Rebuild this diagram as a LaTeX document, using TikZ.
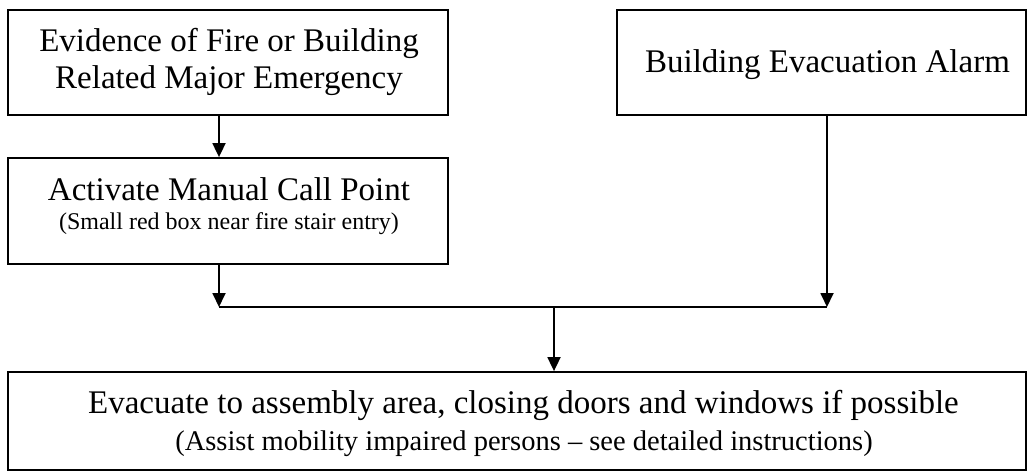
\documentclass[tikz,border=0pt]{standalone}
\usepackage{fontspec}
\setmainfont{Liberation Serif}
\usetikzlibrary{arrows.meta}
\tikzset{
  box/.style={draw=black, line width=1.8pt, rectangle, inner sep=0pt},
  txt/.style={anchor=base, inner sep=0pt},
  big/.style={font=\fontsize{33}{37}\selectfont},
  small/.style={font=\fontsize{24}{28}\selectfont},
  mid/.style={font=\fontsize{28.5}{33}\selectfont},
  arr/.style={line width=1.8pt, -{Triangle[length=14pt,width=13pt]}},
  conn/.style={line width=1.8pt}
}
\begin{document}
\begin{tikzpicture}[x=1pt,y=-1pt]
\useasboundingbox (0,0) rectangle (1028,472);
% boxes
\node[box, minimum width=440pt, minimum height=105pt] (b1) at (228,62.5) {};
\node[box, minimum width=409pt, minimum height=105pt] (b2) at (821.5,62.5) {};
\node[box, minimum width=440pt, minimum height=106pt] (b3) at (228,211) {};
\node[box, minimum width=1018pt, minimum height=98pt] (b4) at (517,421) {};
% texts
\node[txt, big] (t1a) at (229,51) {Evidence of Fire or Building};
\node[txt, big] (t1b) at (229,88) {Related Major Emergency};
\node[txt, big] (t2) at (827.5,72) {Building Evacuation Alarm};
\node[txt, big] (t3a) at (229,200) {Activate Manual Call Point};
\node[txt, small] (t3b) at (229,229) {(Small red box near fire stair entry)};
\node[txt, big] (t4a) at (523.5,413) {Evacuate to assembly area, closing doors and windows if possible};
\node[txt, mid] (t4b) at (524,450) {(Assist mobility impaired persons -- see detailed instructions)};
% connectors
\coordinate (j1) at (219,307);
\coordinate (j2) at (827,307);
\coordinate (j3) at (554,307);
\draw[arr] (b1.south -| j1) -- (b3.north -| j1);
\draw[arr] (b3.south -| j1) -- (j1);
\draw[arr] (b2.south -| j2) -- (j2);
\draw[conn] (j1) -- (j2);
\draw[arr] (j3) -- (b4.north -| j3);
\end{tikzpicture}
\end{document}
